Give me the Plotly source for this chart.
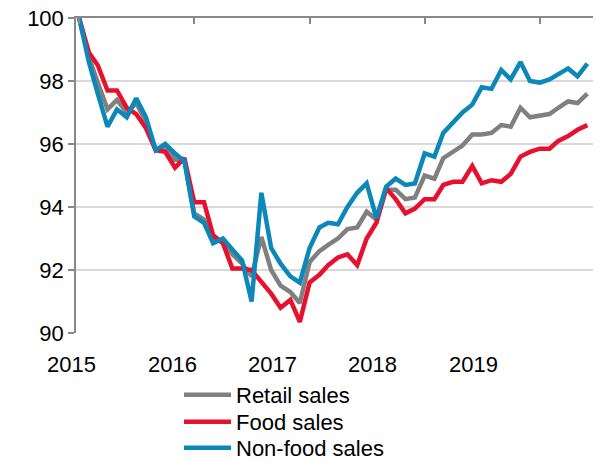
import pandas as pd
import plotly.graph_objects as go

# Monthly index values, Jan 2015 .. Jun 2019
months = pd.date_range("2015-01-01", periods=54, freq="MS")

retail_sales = [
    100.0, 98.75, 97.95, 97.1, 97.4, 97.0, 97.3, 96.7, 95.8, 95.9,
    95.5, 95.5, 93.8, 93.6, 93.0, 92.9, 92.5, 92.2, 91.8, 93.05,
    92.0, 91.5, 91.3, 90.95, 92.25, 92.6, 92.8, 93.0, 93.3, 93.35,
    93.85, 93.6, 94.55, 94.55, 94.25, 94.3, 95.0, 94.9, 95.55, 95.75,
    95.95, 96.3, 96.3, 96.35, 96.6, 96.55, 97.15, 96.85, 96.9, 96.95,
    97.15, 97.35, 97.3, 97.6,
]
food_sales = [
    100.0, 98.9, 98.5, 97.7, 97.7, 97.15, 96.95, 96.5, 95.8, 95.75,
    95.25, 95.55, 94.15, 94.15, 93.1, 92.85, 92.05, 92.05, 92.0, 91.6,
    91.25, 90.8, 91.05, 90.35, 91.6, 91.85, 92.15, 92.4, 92.5, 92.15,
    93.0, 93.5, 94.6, 94.25, 93.8, 93.95, 94.25, 94.25, 94.7, 94.8,
    94.8, 95.3, 94.75, 94.85, 94.8, 95.05, 95.6, 95.75, 95.85, 95.85,
    96.1, 96.25, 96.45, 96.6,
]
nonfood_sales = [
    100.0, 98.6, 97.6, 96.55, 97.1, 96.85, 97.45, 96.85, 95.8, 96.0,
    95.7, 95.45, 93.7, 93.5, 92.85, 93.0, 92.65, 92.3, 91.0, 94.45,
    92.7, 92.2, 91.8, 91.6, 92.7, 93.35, 93.5, 93.45, 94.0, 94.45,
    94.75, 93.65, 94.65, 94.9, 94.7, 94.75, 95.7, 95.6, 96.35, 96.7,
    97.0, 97.25, 97.8, 97.75, 98.35, 98.05, 98.6, 98.0, 97.95, 98.05,
    98.2, 98.4, 98.15, 98.55,
]

series_names = ["Retail sales", "Food sales", "Non-food sales"]
series_colors = ["#808080", "#E8112D", "#0B87BA"]
year_labels = ["2015", "2016", "2017", "2018", "2019"]
year_ticks = pd.to_datetime([f"{y}-01-01" for y in year_labels])

FONT = "Liberation Sans, Arial, sans-serif"
W, H = 597, 462
plot_left, plot_right, plot_top, plot_bottom = 76, 593, 18, 333
plot_w = plot_right - plot_left
plot_h = plot_bottom - plot_top

fig = go.Figure()
legend_rows = [395, 422, 448]  # pixel centres of the legend rows
legend_ids = ["legend", "legend2", "legend3"]
for name, vals, col, lid in zip(series_names,
                                [retail_sales, food_sales, nonfood_sales],
                                series_colors, legend_ids):
    fig.add_trace(go.Scatter(x=months, y=vals, name=name, mode="lines",
                             line=dict(color=col, width=4.5), legend=lid))

# year labels sit below the plot, slightly left of the year ticks
label_px = [71, 172, 272, 372, 473]
for txt, px in zip(year_labels, label_px):
    fig.add_annotation(text=txt, xref="paper", yref="paper",
                       x=(px - plot_left) / plot_w,
                       y=(plot_bottom - 364) / plot_h,
                       xanchor="center", yanchor="middle", showarrow=False,
                       font=dict(size=22, color="#000000", family=FONT))

legend_layout = {}
for lid, row in zip(legend_ids, legend_rows):
    legend_layout[lid] = dict(
        x=(179 - plot_left) / plot_w, y=1 - row / H,
        xanchor="left", yanchor="middle", yref="container",
        font=dict(size=22, color="#000000", family=FONT),
        bgcolor="rgba(0,0,0,0)", itemwidth=47,
    )

fig.update_layout(
    width=W, height=H,
    margin=dict(l=plot_left, r=W - plot_right, t=plot_top, b=H - plot_bottom,
                autoexpand=False),
    plot_bgcolor="white", paper_bgcolor="white",
    font=dict(family=FONT, size=22, color="#000000"),
    showlegend=True,
    xaxis=dict(
        side="top", range=["2014-12-22", "2019-06-19"],
        tickvals=year_ticks, showticklabels=False,
        ticks="inside", ticklen=6, tickwidth=1.5, tickcolor="#888888",
        showline=True, linecolor="#888888", linewidth=2,
        showgrid=False, zeroline=False, automargin=False,
    ),
    yaxis=dict(
        range=[90, 100], dtick=2, tick0=90,
        ticks="outside", ticklen=6, tickwidth=1.5, tickcolor="#888888",
        showline=True, linecolor="#888888", linewidth=1.5,
        showgrid=True, gridcolor="#D9D9D9", gridwidth=1.5,
        zeroline=False, automargin=False, tickfont=dict(size=22),
    ),
    **legend_layout,
)

fig.write_html("out.html", config={"displayModeBar": False},
               post_script="document.body.style.margin='0';"
                           "document.body.style.overflow='hidden';")
